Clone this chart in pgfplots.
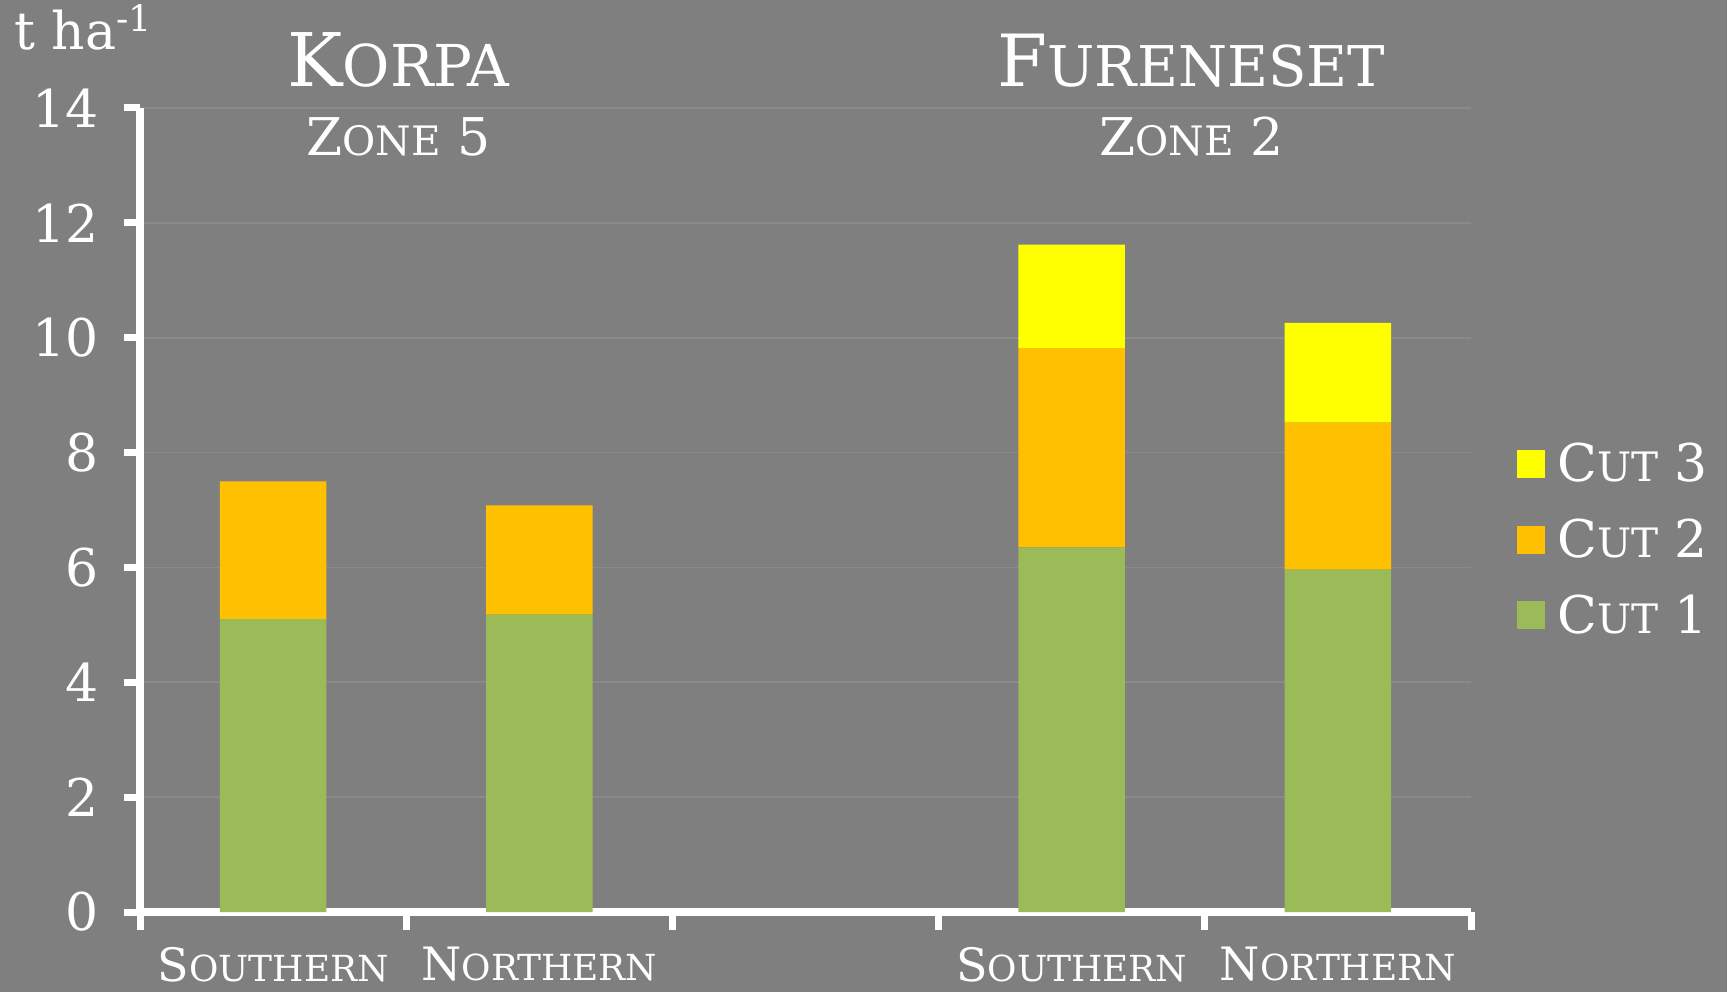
\documentclass[border=0pt]{standalone}
\usepackage{pgfplots}
\pgfplotsset{compat=1.18}
\usepackage{graphicx}
\usepackage{fontspec}
\setmainfont{DejaVu Serif}
\definecolor{bg}{RGB}{127,127,127}
\definecolor{gridc}{RGB}{138,138,138}
\definecolor{cutA}{RGB}{155,187,89}
\definecolor{cutB}{RGB}{255,192,0}
\definecolor{cutC}{RGB}{255,255,0}
\newcommand\fsc[2]{#1\scalebox{0.78}{#2}}
\newcommand\fs[1]{\fontsize{#1}{#1}\selectfont}
\begin{document}
\begin{tikzpicture}
\fill[bg] (0,0) rectangle (863.5pt,496pt);
\node[anchor=base west, text=white, inner sep=0pt] at (7pt,471pt) {\fs{26}t ha\textsuperscript{-1}};
\begin{axis}[
  at={(70pt,40pt)}, anchor=south west,
  scale only axis, width=665.5pt, height=402pt,
  ybar stacked, bar width=0.4,
  xmin=-0.5, xmax=4.5, ymin=0, ymax=14,
  axis lines*=left,
  axis line style={white, line width=4pt},
  xtick={0,1,3,4},
  xticklabels={\fsc{S}{OUTHERN},\fsc{N}{ORTHERN},\fsc{S}{OUTHERN},\fsc{N}{ORTHERN}},
  minor xtick={-0.5,0.5,1.5,2.5,3.5,4.5},
  ytick={0,2,...,14},
  tick align=outside,
  major tick length=8pt, minor tick length=9pt,
  x tick style={draw=none},
  minor x tick style={draw=white, line width=3.5pt},
  y tick style={white, line width=3.5pt},
  ymajorgrids, grid style={gridc, line width=0.8pt},
  tick label style={text=white},
  /pgf/number format/assume math mode=true,
  yticklabel style={font=\fs{26}, xshift=-9pt},
  xticklabel style={font=\fs{23}, yshift=-6pt},
  clip=false,
  legend style={at={(1.03,0.463)}, anchor=west, draw=none, fill=none, text=white, font=\fs{26}, row sep=13pt, legend cell align=left,
    /tikz/every odd column/.append style={column sep=4pt}},
  legend image code/.code={\fill[#1] (-1pt,-7pt) rectangle (13pt,7pt);},
  reverse legend,
]
\addplot[fill=cutA, draw=none] coordinates {(0,5.10) (1,5.18) (3,6.35) (4,5.96)};
\addplot[fill=cutB, draw=none] coordinates {(0,2.40) (1,1.90) (3,3.47) (4,2.56)};
\addplot[fill=cutC, draw=none] coordinates {(0,0) (1,0) (3,1.80) (4,1.74)};
\legend{\fsc{C}{UT} 1,\fsc{C}{UT} 2,\fsc{C}{UT} 3}
\node[anchor=base, text=white, font=\fs{37}] at (axis cs:0.47,14.38) {\fsc{K}{ORPA}};
\node[anchor=base, text=white, font=\fs{26}] at (axis cs:0.47,13.18) {\fsc{Z}{ONE} 5};
\node[anchor=base, text=white, font=\fs{36}] at (axis cs:3.45,14.38) {\fsc{F}{URENESET}};
\node[anchor=base, text=white, font=\fs{26}] at (axis cs:3.45,13.18) {\fsc{Z}{ONE} 2};
\end{axis}
\end{tikzpicture}
\end{document}
